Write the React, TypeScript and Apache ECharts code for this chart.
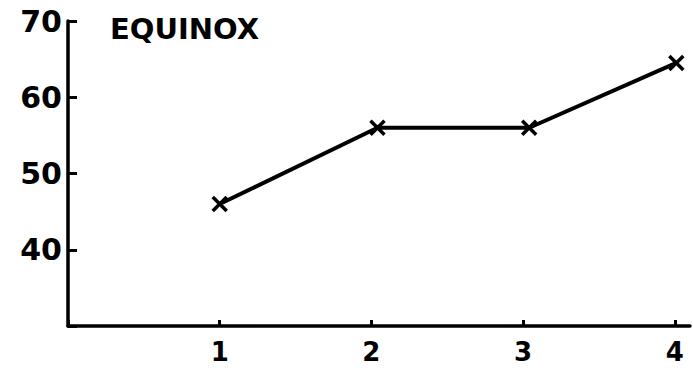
import React, { useEffect, useRef } from "react";
import * as echarts from "echarts";

const title = "EQUINOX";
const xValues = [1, 2.04, 3.04, 4.01];
const yValues = [46, 56, 56, 64.5];
const xTickLabels = ["1", "2", "3", "4"];
const yTickLabels = ["40", "50", "60", "70"];

export default function App() {
  const ref = useRef<HTMLDivElement>(null);
  useEffect(() => {
    const chart = echarts.init(ref.current!, null, { renderer: "svg" });
    const font = "DejaVu Sans";
    chart.setOption({
      animation: false,
      backgroundColor: "#ffffff",
      title: {
        text: title,
        left: 105,
        top: 9,
        textStyle: { fontFamily: font, fontWeight: "bold", fontSize: 29, color: "#000" },
      },
      grid: { left: 68, right: 3, top: 21, bottom: 42, containLabel: false },
      xAxis: {
        type: "value",
        min: 0,
        max: 4.1,
        interval: 1,
        splitLine: { show: false },
        axisLine: { show: true, lineStyle: { color: "#000", width: 3.5 } },
        axisTick: { show: true, inside: true, length: 6, lineStyle: { color: "#000", width: 3 } },
        axisLabel: {
          margin: 13,
          fontFamily: font,
          fontWeight: "bold",
          fontSize: 26,
          color: "#000",
          showMaxLabel: false,
          formatter: (v: number) => {
            const i = xTickLabels.indexOf(String(v));
            return i >= 0 ? xTickLabels[i] : "";
          },
        },
      },
      yAxis: {
        type: "value",
        min: 30,
        max: 70,
        interval: 10,
        splitLine: { show: false },
        axisLine: { show: true, lineStyle: { color: "#000", width: 3.5 } },
        axisTick: { show: true, inside: true, length: 9, lineStyle: { color: "#000", width: 3 } },
        axisLabel: {
          margin: 6,
          fontFamily: font,
          fontWeight: "bold",
          fontSize: 30,
          color: "#000",
          formatter: (v: number) => {
            const i = yTickLabels.indexOf(String(v));
            return i >= 0 ? yTickLabels[i] : "";
          },
        },
      },
      series: [
        {
          type: "line",
          data: xValues.map((x, i) => [x, yValues[i]]),
          lineStyle: { color: "#000", width: 4 },
          symbol: "path://M0,0L10,10M10,0L0,10",
          symbolSize: 14,
          itemStyle: { color: "none", borderColor: "#000", borderWidth: 3.5 },
          showSymbol: true,
        },
      ],
    });
    return () => chart.dispose();
  }, []);
  return (
    <div
      ref={ref}
      style={{ position: "absolute", left: 0, top: 0, width: 693, height: 368 }}
    />
  );
}
